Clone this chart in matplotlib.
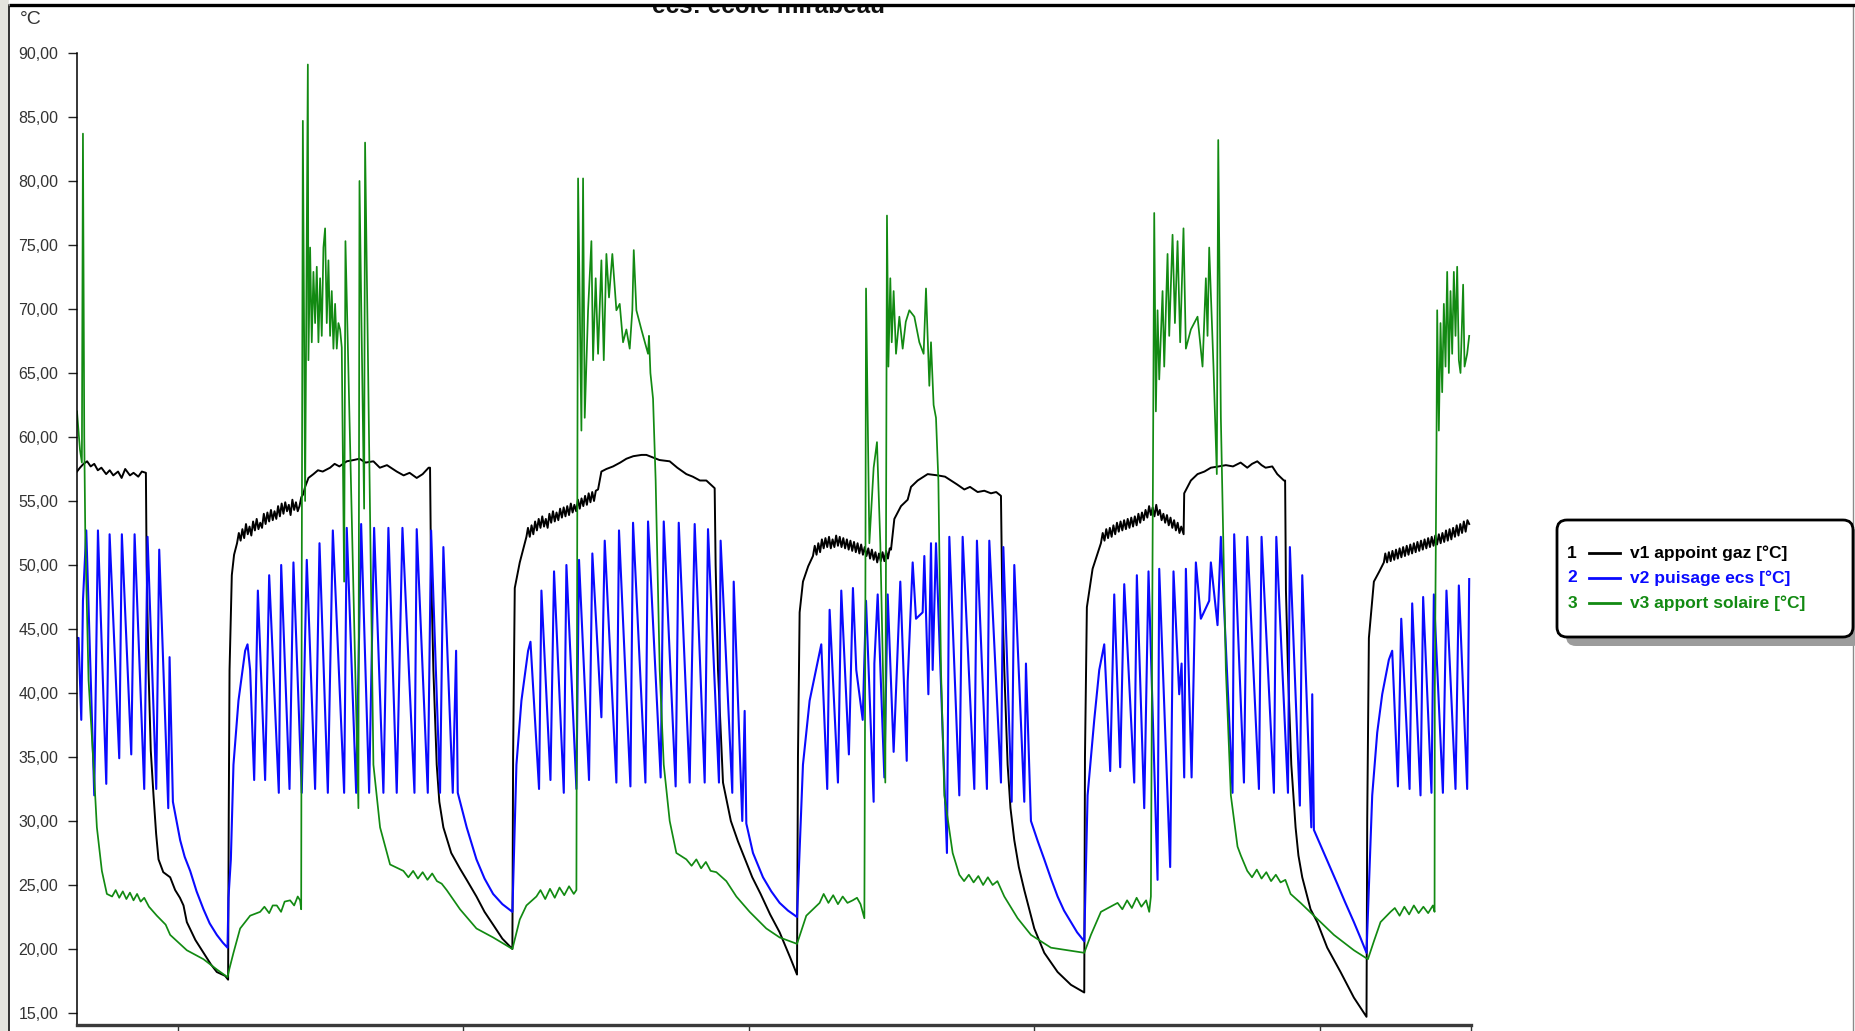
import matplotlib
matplotlib.use("Agg")
import matplotlib.pyplot as plt
from matplotlib.patches import FancyBboxPatch, Rectangle
import numpy as np

plt.rcParams['font.family'] = ['Liberation Sans', 'DejaVu Sans']

# time in hours (0 = first midnight tick), temperature in degC
v1_points = [
    (-8.45, 57.3), (-8.2, 57.6), (-7.9, 57.9), (-7.6, 58.1), (-7.3, 57.7), (-7.0, 57.9), (-6.7, 57.4),
    (-6.4, 57.6), (-6.0, 57.1), (-5.7, 57.4), (-5.4, 57.0), (-5.0, 57.3), (-4.7, 56.8), (-4.4, 57.5),
    (-4.0, 57.0), (-3.7, 57.2), (-3.3, 56.9), (-3.0, 57.3), (-2.66, 57.2),
    (-2.60, 50.0), (-2.44, 41.8), (-2.25, 35.5), (-2.02, 32.0), (-1.80, 29.0), (-1.60, 27.0), (-1.2, 26.0),
    (-0.62, 25.6), (-0.20, 24.6), (0.2, 24.0), (0.5, 23.4), (0.78, 22.1), (1.5, 20.7), (2.18, 19.7),
    (2.8, 18.8), (3.3, 18.2), (4.0, 17.9), (4.25, 17.6),
    (4.30, 30.0), (4.37, 41.8), (4.56, 49.2), (4.75, 50.8), (5.00, 51.7), (5.15, 52.5), (5.30, 51.9),
    (5.45, 52.8), (5.60, 52.1), (5.75, 53.2), (5.90, 52.4), (6.05, 53.0), (6.20, 52.3), (6.35, 53.4),
    (6.50, 52.7), (6.65, 53.6), (6.80, 52.8), (6.95, 53.3), (7.10, 52.9), (7.25, 54.0), (7.40, 53.2),
    (7.55, 54.1), (7.70, 53.4), (7.85, 54.3), (8.00, 53.5), (8.15, 54.2), (8.30, 53.6), (8.45, 54.6),
    (8.60, 53.8), (8.75, 54.8), (8.90, 54.0), (9.05, 54.9), (9.20, 54.2), (9.35, 54.7), (9.50, 53.9),
    (9.65, 55.1), (9.80, 54.3), (9.95, 54.9), (10.10, 54.2), (10.25, 54.6), (10.40, 55.3), (10.55, 55.5),
    (10.72, 56.1), (11.0, 56.8), (11.42, 57.1), (11.8, 57.4), (12.2, 57.3), (12.82, 57.6), (13.2, 57.9),
    (13.6, 57.7), (14.22, 58.1), (14.8, 58.2), (15.29, 58.3), (15.8, 58.0), (16.46, 58.1), (17.0, 57.6),
    (17.6, 57.8), (18.42, 57.3), (19.0, 57.0), (19.5, 57.2), (20.1, 56.8), (20.6, 57.1), (21.1, 57.6),
    (21.22, 57.6),
    (21.30, 50.0), (21.50, 41.8), (21.78, 34.4), (22.0, 31.5), (22.34, 29.5), (23.0, 27.5), (23.72, 26.3),
    (24.3, 25.4), (25.12, 24.1), (25.8, 22.9), (26.52, 21.9), (27.3, 20.8), (28.14, 20.0),
    (28.20, 35.0), (28.34, 48.2), (28.76, 50.2), (29.32, 52.2), (29.45, 52.9), (29.60, 52.2), (29.75, 53.1),
    (29.90, 52.4), (30.05, 53.4), (30.20, 52.7), (30.35, 53.6), (30.50, 52.9), (30.65, 53.8), (30.80, 53.0),
    (30.95, 53.6), (31.10, 52.9), (31.25, 54.0), (31.40, 53.3), (31.55, 54.2), (31.70, 53.4), (31.85, 54.1),
    (32.00, 53.5), (32.15, 54.4), (32.30, 53.7), (32.45, 54.5), (32.60, 53.8), (32.75, 54.6), (32.90, 53.9),
    (33.05, 54.8), (33.20, 54.1), (33.35, 54.7), (33.50, 54.2), (33.65, 55.1), (33.80, 54.4), (33.95, 55.2),
    (34.10, 54.6), (34.25, 55.4), (34.40, 54.7), (34.55, 55.6), (34.70, 54.9), (34.85, 55.7), (35.00, 55.0),
    (35.15, 55.8), (35.34, 55.9),
    (35.62, 57.3), (36.04, 57.5), (36.6, 57.7), (37.2, 58.0), (37.72, 58.3), (38.3, 58.5), (39.0, 58.6),
    (39.4, 58.6), (39.96, 58.4), (40.5, 58.2), (41.36, 58.1), (42.0, 57.6), (42.76, 57.1), (43.3, 56.9),
    (43.9, 56.6), (44.44, 56.6), (45.14, 56.0),
    (45.22, 50.0), (45.42, 41.8), (45.84, 33.0), (46.5, 30.0), (47.1, 28.4), (47.7, 27.0), (48.3, 25.6),
    (49.0, 24.3), (49.8, 22.7), (50.6, 21.3), (51.5, 19.3), (52.06, 18.0),
    (52.14, 35.0), (52.28, 46.3), (52.56, 48.7), (53.0, 49.9), (53.40, 50.7), (53.55, 51.5), (53.70, 50.8),
    (53.85, 51.7), (54.00, 51.0), (54.15, 52.0), (54.30, 51.3), (54.45, 52.1), (54.60, 51.4), (54.75, 52.2),
    (54.90, 51.3), (55.05, 52.0), (55.20, 51.4), (55.35, 52.3), (55.50, 51.5), (55.65, 52.2), (55.80, 51.4),
    (55.95, 52.1), (56.10, 51.3), (56.25, 52.0), (56.40, 51.2), (56.55, 51.9), (56.70, 51.1), (56.85, 51.8),
    (57.00, 51.0), (57.15, 51.7), (57.30, 50.9), (57.45, 51.6), (57.60, 50.8), (57.75, 51.4), (57.90, 50.7),
    (58.05, 51.3), (58.20, 50.5), (58.35, 51.2), (58.50, 50.4), (58.65, 51.0), (58.80, 50.2), (58.95, 50.9),
    (59.10, 50.3), (59.25, 51.0), (59.40, 50.3), (59.55, 51.1), (59.70, 50.5), (59.85, 51.3), (59.96, 51.2),
    (60.24, 53.6), (60.8, 54.6), (61.36, 55.1), (61.64, 56.1), (62.2, 56.6), (63.04, 57.1), (63.88, 57.0),
    (64.5, 56.9), (65.0, 56.6), (65.5, 56.3), (66.12, 55.9), (66.6, 56.1), (67.24, 55.7), (67.8, 55.8),
    (68.36, 55.6), (68.8, 55.7), (69.2, 55.4),
    (69.3, 48.0), (69.48, 41.8), (69.76, 34.4), (70.0, 31.0), (70.32, 28.5), (70.7, 26.4), (71.16, 24.6),
    (72.0, 21.6), (72.84, 19.7), (73.96, 18.2), (75.08, 17.2), (76.2, 16.6),
    (76.26, 35.0), (76.42, 46.7), (76.9, 49.7), (77.6, 51.7), (77.75, 52.5), (77.90, 51.9), (78.05, 52.8),
    (78.20, 52.1), (78.35, 52.9), (78.50, 52.2), (78.65, 53.1), (78.80, 52.4), (78.95, 53.3), (79.10, 52.6),
    (79.25, 53.4), (79.40, 52.7), (79.55, 53.5), (79.70, 52.8), (79.85, 53.6), (80.00, 52.9), (80.15, 53.7),
    (80.30, 53.0), (80.45, 53.8), (80.60, 53.1), (80.75, 54.0), (80.90, 53.3), (81.05, 54.1), (81.20, 53.5),
    (81.35, 54.3), (81.50, 53.7), (81.65, 54.6), (81.80, 53.9), (81.95, 54.5), (82.10, 53.8), (82.25, 54.7),
    (82.40, 53.9), (82.55, 54.3), (82.70, 53.5), (82.85, 54.0), (83.00, 53.3), (83.15, 53.9), (83.30, 53.1),
    (83.45, 53.7), (83.60, 52.9), (83.75, 53.5), (83.90, 52.7), (84.05, 53.3), (84.20, 52.5), (84.35, 53.0),
    (84.55, 52.4),
    (84.6, 55.6), (85.16, 56.6), (85.72, 57.1), (86.3, 57.3), (86.84, 57.6), (87.5, 57.7), (88.1, 57.8),
    (88.7, 57.7), (89.34, 58.0), (89.9, 57.6), (90.3, 57.9), (90.74, 58.1), (91.1, 57.8), (91.44, 57.6),
    (92.0, 57.7), (92.42, 57.1), (92.98, 56.6), (93.08, 56.6),
    (93.15, 48.0), (93.32, 41.8), (93.6, 34.4), (93.96, 29.5), (94.2, 27.3), (94.52, 25.6), (95.22, 23.1),
    (95.78, 22.1), (96.62, 20.1), (97.74, 18.2), (98.86, 16.2), (99.92, 14.7),
    (99.98, 30.0), (100.12, 44.3), (100.26, 45.8), (100.54, 48.7), (101.0, 49.5), (101.38, 50.2),
    (101.50, 50.9), (101.65, 50.2), (101.80, 51.0), (101.95, 50.3), (102.10, 51.1), (102.25, 50.4),
    (102.40, 51.2), (102.55, 50.5), (102.70, 51.3), (102.85, 50.6), (103.00, 51.4), (103.15, 50.7),
    (103.30, 51.5), (103.45, 50.8), (103.60, 51.6), (103.75, 50.9), (103.90, 51.7), (104.05, 51.0),
    (104.20, 51.8), (104.35, 51.1), (104.50, 51.9), (104.65, 51.2), (104.80, 52.0), (104.95, 51.3),
    (105.10, 52.1), (105.25, 51.4), (105.40, 52.2), (105.55, 51.5), (105.70, 52.3), (105.85, 51.6),
    (106.00, 52.4), (106.15, 51.7), (106.30, 52.5), (106.45, 51.8), (106.60, 52.7), (106.75, 51.9),
    (106.90, 52.8), (107.05, 52.0), (107.20, 52.9), (107.35, 52.2), (107.50, 53.1), (107.65, 52.3),
    (107.80, 53.2), (107.95, 52.5), (108.10, 53.4), (108.25, 52.6), (108.40, 53.5), (108.55, 53.2),
]

v2_points = [
    (-8.45, 44.3), (-8.32, 44.3), (-8.09, 37.9), (-7.95, 47.2), (-7.67, 52.7), (-7.00, 32.0), (-6.69, 52.7),
    (-5.99, 32.9), (-5.71, 52.4), (-4.90, 34.9), (-4.68, 52.4), (-3.89, 35.2), (-3.61, 52.4), (-2.80, 32.5),
    (-2.52, 52.2), (-1.79, 32.5), (-1.54, 51.2), (-0.78, 31.0), (-0.67, 42.8), (-0.39, 31.5), (0.22, 28.5),
    (0.6, 27.2), (1.06, 26.1), (1.6, 24.5), (2.18, 23.1), (2.7, 22.0), (3.30, 21.1), (3.8, 20.5), (4.20, 20.1),
    (4.28, 24.0), (4.48, 27.0), (4.70, 34.4), (5.12, 39.4), (5.68, 43.3), (5.88, 43.8), (6.10, 41.8),
    (6.44, 33.2), (6.75, 48.0), (7.36, 33.2), (7.70, 49.2), (8.51, 32.2), (8.71, 50.0), (9.41, 32.5),
    (9.74, 50.2), (10.44, 32.2), (10.86, 50.4), (11.56, 32.5), (11.93, 51.7), (12.63, 32.2), (13.05, 52.7),
    (14.00, 32.2), (14.22, 52.9), (15.01, 32.2), (15.43, 53.2), (16.10, 32.2), (16.52, 52.9), (17.30, 32.2),
    (17.72, 52.9), (18.42, 32.2), (18.90, 52.9), (19.91, 32.2), (20.10, 52.8), (21.03, 32.2), (21.31, 52.7),
    (22.06, 32.2), (22.34, 51.4), (23.13, 32.2), (23.41, 43.3), (23.55, 32.2), (24.30, 29.5), (25.12, 27.0),
    (25.80, 25.5), (26.52, 24.3), (27.30, 23.5), (28.14, 22.9),
    (28.48, 34.4), (28.90, 39.4), (29.46, 43.3), (29.66, 44.0), (30.38, 32.5), (30.58, 48.0), (31.34, 33.2),
    (31.64, 49.5), (32.46, 32.2), (32.68, 50.0), (33.52, 32.5), (33.74, 50.4), (34.58, 33.2), (34.86, 50.9),
    (35.62, 38.1), (35.90, 51.9), (36.88, 33.0), (37.10, 52.7), (38.06, 32.7), (38.28, 53.3), (39.32, 33.0),
    (39.54, 53.4), (40.60, 33.4), (40.86, 53.4), (41.86, 32.7), (42.12, 53.3), (43.04, 33.0), (43.46, 53.2),
    (44.30, 33.0), (44.58, 52.8), (45.50, 33.0), (45.64, 51.9), (46.62, 32.2), (46.74, 48.7), (47.46, 30.0),
    (47.66, 38.6), (47.80, 29.8), (48.36, 27.5), (48.8, 26.5), (49.20, 25.6), (49.9, 24.5), (50.60, 23.6),
    (51.3, 23.0), (52.06, 22.5),
    (52.56, 34.4), (53.12, 39.4), (54.10, 43.8), (54.60, 32.5), (54.80, 46.5), (55.50, 33.0), (55.78, 48.0),
    (56.42, 35.2), (56.76, 48.2), (57.04, 41.8), (57.58, 37.9), (57.86, 47.2), (58.50, 31.5), (58.56, 42.3),
    (58.84, 47.7), (59.40, 33.4), (59.68, 47.7), (60.18, 35.4), (60.74, 48.7), (61.28, 34.7), (61.36, 40.9),
    (61.78, 50.2), (62.06, 45.8), (62.62, 46.3), (62.76, 50.7), (63.10, 39.9), (63.32, 51.7), (63.46, 41.8),
    (63.74, 51.7), (64.66, 27.5), (64.86, 52.2), (65.70, 32.0), (65.98, 52.2), (66.96, 32.5), (67.18, 51.9),
    (68.02, 32.5), (68.22, 51.9), (69.20, 33.0), (69.40, 51.4), (70.10, 31.5), (70.32, 50.0), (71.16, 31.5),
    (71.30, 42.3), (71.72, 30.0), (72.3, 28.4), (72.84, 27.0), (73.4, 25.5), (73.96, 24.1), (74.5, 23.0),
    (75.08, 22.1), (75.6, 21.3), (76.20, 20.6),
    (76.48, 32.0), (77.04, 37.9), (77.46, 41.8), (77.88, 43.8), (78.38, 33.9), (78.72, 47.7), (79.22, 34.2),
    (79.56, 48.5), (80.40, 33.0), (80.62, 49.2), (81.24, 31.0), (81.60, 49.5), (82.36, 25.4), (82.50, 49.7),
    (83.42, 26.4), (83.70, 49.5), (84.18, 39.9), (84.38, 42.3), (84.60, 33.4), (84.74, 49.7), (85.22, 33.4),
    (85.58, 50.2), (86.00, 45.8), (86.70, 47.2), (86.84, 50.2), (87.40, 45.3), (87.68, 52.2), (88.66, 32.2),
    (88.80, 52.4), (89.62, 33.0), (89.90, 52.2), (90.88, 32.5), (91.10, 52.2), (92.14, 32.2), (92.34, 52.2),
    (93.32, 32.2), (93.48, 51.4), (94.32, 31.2), (94.52, 49.2), (95.28, 29.5), (95.36, 39.9), (95.50, 29.3),
    (96.34, 27.5), (96.9, 26.3), (97.46, 25.1), (98.1, 23.7), (98.86, 22.1), (99.4, 20.9), (99.92, 19.7),
    (100.40, 32.0), (100.82, 36.9), (101.24, 39.9), (101.80, 42.6), (102.08, 43.3), (102.56, 32.7),
    (102.84, 45.8), (103.54, 32.5), (103.76, 47.0), (104.46, 32.0), (104.68, 47.5), (105.38, 32.2),
    (105.58, 47.7), (106.34, 32.2), (106.64, 48.0), (107.40, 32.5), (107.68, 48.4), (108.38, 32.5),
    (108.55, 48.9),
]

v3_points = [
    (-8.45, 62.0), (-8.2, 59.0), (-8.04, 58.0), (-7.95, 83.7), (-7.84, 60.0), (-7.75, 52.0), (-7.62, 46.7),
    (-7.48, 41.0), (-7.06, 34.4), (-6.78, 29.5), (-6.36, 26.1), (-5.94, 24.3), (-5.5, 24.1), (-5.2, 24.6),
    (-4.9, 24.0), (-4.6, 24.5), (-4.3, 23.9), (-4.0, 24.4), (-3.7, 23.8), (-3.4, 24.3), (-3.1, 23.7),
    (-2.8, 24.0), (-2.4, 23.3), (-1.74, 22.6), (-1.0, 21.9), (-0.62, 21.1), (0.2, 20.4), (0.78, 19.9),
    (2.18, 19.2), (3.30, 18.4), (4.20, 17.8),
    (4.37, 18.5), (4.70, 19.7), (5.26, 21.6), (6.10, 22.6), (6.94, 22.9), (7.3, 23.3), (7.7, 22.8),
    (8.0, 23.4), (8.34, 23.4), (8.7, 22.9), (9.0, 23.7), (9.46, 23.8), (9.8, 23.4), (10.1, 24.1),
    (10.30, 23.8), (10.39, 23.1),
    (10.44, 50.0), (10.53, 84.7), (10.72, 55.0), (10.95, 89.1), (11.00, 66.0), (11.14, 74.8), (11.28, 67.4),
    (11.42, 72.9), (11.56, 68.9), (11.70, 73.3), (11.84, 67.4), (11.98, 72.4), (12.12, 67.9), (12.26, 74.8),
    (12.40, 76.3), (12.54, 68.9), (12.68, 73.8), (12.82, 67.9), (12.96, 71.4), (13.10, 66.9), (13.24, 70.4),
    (13.38, 66.9), (13.52, 68.9), (13.66, 68.4), (13.80, 67.0), (14.00, 48.7), (14.11, 75.3), (15.20, 31.0),
    (15.29, 80.0), (15.68, 54.4), (15.76, 83.0), (16.46, 34.4), (17.02, 29.5), (17.86, 26.6), (18.98, 26.1),
    (19.4, 25.6), (19.8, 26.1), (20.2, 25.5), (20.6, 26.0), (21.0, 25.4), (21.4, 25.9), (21.8, 25.3),
    (22.2, 25.1), (22.62, 24.6), (23.74, 23.1), (25.12, 21.6), (26.52, 20.9), (28.14, 20.0),
    (28.76, 22.3), (29.32, 23.4), (30.16, 24.1), (30.5, 24.6), (30.9, 23.9), (31.3, 24.7), (31.7, 24.0),
    (32.1, 24.8), (32.5, 24.2), (32.9, 24.9), (33.3, 24.3), (33.52, 24.6),
    (33.66, 80.2), (33.94, 60.5), (34.08, 80.2), (34.22, 61.5), (34.50, 69.9), (34.78, 75.3), (34.92, 66.0),
    (35.14, 72.4), (35.34, 66.5), (35.62, 73.8), (35.82, 66.0), (36.04, 74.3), (36.26, 70.9), (36.54, 74.3),
    (36.88, 69.9), (37.16, 70.4), (37.44, 67.4), (37.72, 68.4), (38.00, 66.9), (38.22, 69.9), (38.34, 74.6),
    (38.56, 69.9), (38.98, 68.4), (39.54, 66.5), (39.62, 67.9), (39.74, 65.0), (39.96, 63.0), (40.18, 56.6),
    (40.52, 41.8), (40.86, 34.4), (41.36, 30.0), (41.92, 27.5), (42.76, 27.0), (43.2, 26.5), (43.6, 27.0),
    (44.0, 26.3), (44.4, 26.8), (44.8, 26.1), (45.28, 26.0), (46.12, 25.3), (46.96, 24.1), (48.08, 22.9),
    (49.48, 21.6), (50.60, 20.9), (52.06, 20.4),
    (52.84, 22.6), (53.96, 23.6), (54.3, 24.3), (54.7, 23.6), (55.1, 24.2), (55.5, 23.5), (55.9, 24.1),
    (56.3, 23.6), (56.74, 23.8), (57.1, 24.0), (57.4, 23.5), (57.72, 22.4),
    (57.80, 45.0), (57.86, 71.6), (58.14, 51.7), (58.50, 57.6), (58.78, 59.6), (59.06, 51.7), (59.48, 33.0),
    (59.62, 77.3), (59.74, 65.5), (59.90, 72.4), (60.02, 67.4), (60.18, 71.4), (60.38, 66.5), (60.66, 69.4),
    (60.94, 66.9), (61.2, 69.0), (61.50, 69.9), (61.92, 69.4), (62.34, 67.4), (62.70, 66.5), (62.90, 71.6),
    (63.18, 64.0), (63.32, 67.4), (63.54, 62.5), (63.74, 61.5), (63.94, 56.6), (64.16, 41.8), (64.44, 32.0),
    (65.14, 27.5), (65.70, 25.8), (66.1, 25.3), (66.5, 25.8), (66.9, 25.2), (67.3, 25.7), (67.7, 25.0),
    (68.1, 25.6), (68.5, 25.0), (68.9, 25.3), (69.48, 24.1), (70.60, 22.4), (71.72, 21.1), (73.40, 20.1),
    (76.20, 19.7),
    (76.76, 21.1), (77.60, 22.9), (79.00, 23.6), (79.4, 23.1), (79.8, 23.8), (80.2, 23.2), (80.6, 24.0),
    (81.0, 23.3), (81.4, 23.8), (81.66, 22.9), (81.80, 24.1),
    (82.08, 77.5), (82.22, 62.0), (82.36, 69.9), (82.50, 64.5), (82.78, 71.4), (82.92, 65.5), (83.20, 74.3),
    (83.34, 67.9), (83.62, 75.8), (83.82, 68.9), (84.04, 75.3), (84.26, 67.4), (84.54, 76.3), (84.74, 66.9),
    (85.16, 68.4), (85.72, 69.4), (86.14, 65.5), (86.42, 72.4), (86.56, 67.9), (86.70, 74.8), (87.06, 65.5),
    (87.34, 57.1), (87.46, 83.2), (87.68, 61.5), (88.10, 41.8), (88.52, 32.0), (89.08, 28.0), (89.36, 27.3),
    (89.90, 26.1), (90.3, 25.6), (90.7, 26.2), (91.1, 25.5), (91.5, 26.0), (91.9, 25.3), (92.3, 25.8),
    (92.7, 25.2), (93.1, 25.4), (93.54, 24.3), (94.38, 23.6), (95.50, 22.6), (97.18, 21.1), (98.86, 19.9),
    (100.04, 19.2),
    (100.54, 20.6), (101.10, 22.1), (101.94, 22.9), (102.3, 23.2), (102.7, 22.6), (103.1, 23.3), (103.5, 22.7),
    (103.9, 23.4), (104.3, 22.8), (104.7, 23.3), (105.1, 22.8), (105.5, 23.4), (105.64, 22.9),
    (105.66, 40.0), (105.80, 59.1), (105.86, 69.9), (106.00, 60.5), (106.14, 68.9), (106.28, 63.5),
    (106.42, 70.4), (106.56, 65.5), (106.70, 72.9), (106.84, 65.0), (106.98, 71.4), (107.12, 66.5),
    (107.26, 72.9), (107.40, 67.9), (107.54, 73.3), (107.68, 66.0), (107.82, 65.0), (108.04, 71.9),
    (108.16, 65.5), (108.38, 66.5), (108.55, 67.9),
]

series_labels = ["v1 appoint gaz [°C]", "v2 puisage ecs [°C]", "v3 apport solaire [°C]"]
series_colors = ["#000000", "#0a0aff", "#128a12"]
series_widths = [1.4, 1.5, 1.25]
y_ticks = list(range(15, 91, 5))
x_ticks = [0, 24, 48, 72, 96]
title = "ecs: ecole mirabeau"

W, H = 1855, 1031
fig = plt.figure(figsize=(W / 100, H / 100), dpi=100)
fig.patch.set_facecolor("white")

ax = fig.add_axes([77 / W, 6 / H, (1470.5 - 77) / W, (1025 - 53) / H])
for pts, col, lw in zip([v1_points, v2_points, v3_points], series_colors, series_widths):
    arr = np.array(pts)
    ax.plot(arr[:, 0], arr[:, 1], color=col, lw=lw)

ax.set_xlim(-8.45, 108.66)
ax.set_ylim(14.06, 90)
ax.set_yticks(y_ticks)
ax.set_yticklabels([f"{v},00" for v in y_ticks])
ax.set_xticks(x_ticks + [108.66])
ax.set_xticklabels([])
ax.tick_params(axis="y", direction="out", length=6.5, width=1.0, pad=7,
               labelsize=11.5, labelcolor="#333333", color="#222222")
ax.tick_params(axis="x", direction="out", length=10, width=1.0, color="#333333")
ax.spines["top"].set_visible(False)
ax.spines["right"].set_visible(False)
ax.spines["left"].set_linewidth(1.1)
ax.spines["bottom"].set_linewidth(2.4)
ax.spines["bottom"].set_color("#3a3a3a")

# overlay in pixel units for frame, title and legend
ov = fig.add_axes([0, 0, 1, 1])
ov.set_xlim(0, W)
ov.set_ylim(H, 0)
ov.axis("off")

ov.add_patch(Rectangle((0, 0), 8, H, color="#e4e4de", zorder=1))
ov.plot([9, 9], [5, H], color="#111111", lw=1.2, zorder=2)
ov.plot([1853, 1853], [5, H], color="#8a8a8a", lw=1.0, zorder=2)

ov.text(769, 13, title, ha="center", va="baseline", fontsize=17.5,
        fontweight="bold", color="#111111", zorder=3)
ov.add_patch(Rectangle((9, 0), W, 5, color="white", zorder=5))
ov.plot([9, W], [5, 5], color="#000000", lw=2.4, zorder=6, solid_capstyle="butt")

ov.text(31, 19, "°C", ha="center", va="center", fontsize=14, color="#333333")

# legend box
ov.add_patch(FancyBboxPatch((1566, 529), 296, 117, boxstyle="round,pad=0,rounding_size=10",
                            fc="#9c9c9c", ec="none", zorder=3))
ov.add_patch(FancyBboxPatch((1557, 520), 296, 117, boxstyle="round,pad=0,rounding_size=10",
                            fc="white", ec="black", lw=2.0, zorder=4))
for i, (lab, col) in enumerate(zip(series_labels, series_colors)):
    y = 553 + 25 * i
    ov.text(1572, y, str(i + 1), ha="center", va="center", fontsize=12.5,
            fontweight="bold", color=col, zorder=5)
    ov.plot([1589, 1620], [y, y], color=col, lw=2.0, zorder=5)
    ov.text(1630, y, lab, ha="left", va="center", fontsize=12.5,
            fontweight="bold", color=col, zorder=5)

fig.savefig("out.png", dpi=100)
